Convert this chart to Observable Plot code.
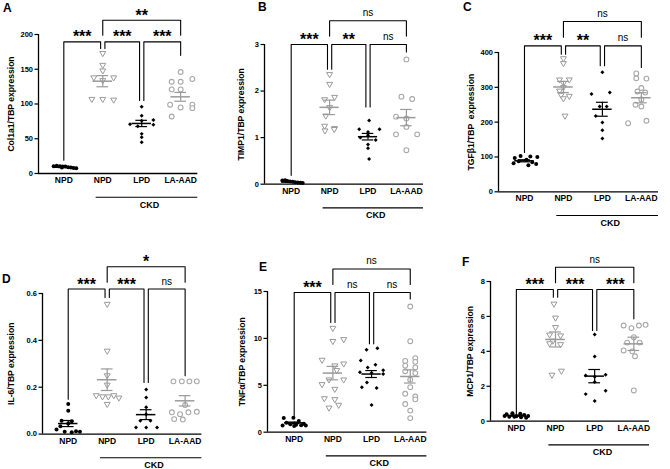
<!DOCTYPE html>
<html><head><meta charset="utf-8">
<script src="https://cdn.jsdelivr.net/npm/d3@7"></script>
<script src="https://cdn.jsdelivr.net/npm/@observablehq/plot@0.6"></script>
<style>
html,body{margin:0;padding:0;background:#fff;}
#fig{position:relative;width:670px;height:469px;overflow:hidden;font-family:"Liberation Sans",Arial,sans-serif;}
.letter{position:absolute;font-weight:bold;font-size:12px;line-height:1;color:#000;}
</style></head><body><div id="fig"></div>
<script>
const groupNames = ["NPD", "NPD", "LPD", "LA-AAD"];

// Panel A: Col1a1
const col1a1Ticks = [0, 50, 100, 150, 200];
const col1a1Values = [
  [10.5, 11, 10.5, 10, 10, 9, 8.5, 8, 7.5, 8.5],
  [173, 156, 148, 138, 138, 134, 107, 107, 106],
  [96, 83, 77, 76, 71, 70, 68, 57, 52, 45],
  [146, 136, 132, 132, 121, 121, 99, 99, 95, 94, 82]
];
const col1a1Offsets = [
  [-0.26, -0.18, -0.1, -0.03, 0.04, 0.11, 0.18, 0.25, 0.32, -0.05],
  [0, 0, 0, -0.23, 0.28, 0, -0.28, 0, 0.28],
  [0, 0, 0.3, 0, -0.3, 0.3, -0.1, 0, 0, 0],
  [0, 0.3, -0.23, 0, -0.23, 0, -0.27, 0.3, 0, 0.3, -0.23]
];
const col1a1Means = [9, 132.8, 72, 110.3];
const col1a1Sems = [0.5, 8, 4.5, 6.3];
const col1a1Brackets = [[0, 1, 189.4, 19, 180, "***"], [1, 2, 189.4, 180, 105, "***"], [2, 3, 189.4, 105, 170, "***"], [1, 3, 220.6, 199, 199, "**"]];

// Panel B: TIMP1
const timp1Ticks = [0, 1, 2, 3];
const timp1Values = [
  [0.08, 0.085, 0.07, 0.06, 0.05, 0.04, 0.035, 0.03, 0.025],
  [2.36, 2.15, 1.82, 1.87, 1.65, 1.47, 1.25, 1.2, 1.15, 1.18],
  [1.37, 1.18, 1.18, 1.12, 1.05, 1.0, 0.95, 0.85, 0.77, 0.54],
  [2.68, 1.88, 1.83, 1.45, 1.41, 1.23, 1.07, 1.07, 0.73]
];
const timp1Offsets = [
  [-0.23, -0.16, -0.1, -0.03, 0.04, 0.1, 0.17, 0.24, 0.3],
  [0, 0, -0.13, 0.13, 0, -0.1, -0.13, 0.13, -0.12, 0.12],
  [0.03, -0.23, 0.3, 0, 0, -0.2, 0.2, 0, 0, 0.03],
  [0, -0.13, 0.15, -0.27, 0, 0, -0.27, 0.28, 0]
];
const timp1Means = [0.045, 1.65, 1.02, 1.43];
const timp1Sems = [0.007, 0.155, 0.07, 0.175];
const timp1Brackets = [[0, 1, 3.0, 0.19, 2.47, "***"], [1, 2, 3.0, 2.47, 1.66, "**"], [2, 3, 3.0, 1.66, 2.84, "ns"], [1, 3, 3.51, 3.18, 3.18, "ns"]];

// Panel C: TGFb1
const tgfTicks = [0, 100, 200, 300, 400];
const tgfValues = [
  [103, 101, 100, 97, 92, 88, 85, 82, 80, 76],
  [383, 369, 322, 322, 312, 300, 290, 278, 275, 268, 218],
  [343, 281, 285, 245, 245, 218, 199, 177, 153],
  [340, 326, 325, 298, 288, 285, 265, 250, 245, 197, 204]
];
const tgfOffsets = [
  [-0.1, 0.15, 0.33, -0.25, 0.05, -0.15, 0.2, -0.28, 0.3, 0.1],
  [0, 0, -0.1, 0.15, 0, 0, -0.1, -0.06, 0.15, 0, 0.04],
  [0, -0.28, 0.19, -0.07, 0.11, -0.17, 0, 0, 0],
  [-0.13, -0.13, 0.13, 0, -0.1, 0.1, 0, -0.15, 0, -0.34, 0.13]
];
const tgfMeans = [89, 301, 237, 270];
const tgfSems = [3, 16, 20, 14.5];
const tgfBrackets = [[0, 1, 419, 113, 395, "***"], [1, 2, 419, 395, 362, "**"], [2, 3, 419, 362, 357, "ns"], [1, 3, 489, 444, 444, "ns"]];

// Panel D: IL-6
const il6Ticks = [0, 0.2, 0.4, 0.6];
const il6Values = [
  [0.128, 0.10, 0.057, 0.055, 0.045, 0.033, 0.02, 0.01, 0.008, 0.01, 0.012],
  [0.555, 0.355, 0.25, 0.21, 0.165, 0.16, 0.16, 0.165, 0.155, 0.128],
  [0.19, 0.156, 0.114, 0.085, 0.057, 0.057, 0.028, 0.028, 0.028],
  [0.225, 0.225, 0.225, 0.225, 0.124, 0.093, 0.085, 0.093, 0.095, 0.064, 0.062]
];
const il6Offsets = [
  [0, 0, -0.17, 0.09, 0, -0.2, -0.3, -0.09, 0.09, 0.3, 0.2],
  [0, 0, 0, 0, -0.28, -0.12, 0.03, 0.17, 0.3, 0],
  [0, 0, 0, 0, -0.15, 0.11, -0.26, 0, 0.28],
  [-0.3, -0.085, 0.11, 0.3, 0, -0.34, -0.13, 0.085, 0.3, -0.28, -0.06]
];
const il6Means = [0.045, 0.232, 0.083, 0.142];
const il6Sems = [0.013, 0.046, 0.021, 0.022];
const il6Brackets = [[0, 1, 0.619, 0.149, 0.583, "***"], [1, 2, 0.619, 0.583, 0.22, "***"], [2, 3, 0.619, 0.22, 0.249, "ns"], [1, 3, 0.714, 0.648, 0.648, "*"]];

// Panel E: TNFa
const tnfTicks = [0, 5, 10, 15];
const tnfValues = [
  [1.5, 1.55, 1.2, 1.0, 0.9, 0.85, 0.8, 0.75, 0.7, 0.7, 0.65],
  [11.1, 9.7, 9.9, 7.7, 7.3, 7.1, 6.6, 5.6, 5.1, 5.6, 4.6, 3.6, 3.5, 2.9, 2.6],
  [8.8, 8.95, 7.65, 7.2, 6.9, 6.6, 6.3, 6.4, 6.2, 5.3, 4.8, 4.7, 2.9],
  [13.4, 9.7, 7.9, 7.6, 7.5, 7.1, 6.9, 6.5, 6.3, 5.6, 4.8, 4.1, 3.8, 3.0, 2.3, 1.5, 3.5]
];
const tnfOffsets = [
  [-0.27, -0.02, 0.12, -0.2, 0.25, -0.1, 0.05, 0.18, -0.3, 0.3, 0],
  [0, 0, 0.28, -0.28, 0.28, 0.05, 0.1, -0.1, -0.28, 0.28, 0.05, -0.22, 0.05, 0.15, -0.1],
  [-0.13, 0.15, -0.28, 0.1, -0.1, 0.3, 0, -0.3, 0.3, -0.12, -0.25, 0.13, 0],
  [0, 0, 0.13, -0.13, 0.13, -0.13, 0.13, -0.13, 0.13, 0, 0, -0.13, 0.13, -0.13, 0, 0, 0.13]
];
const tnfMeans = [1.0, 6.3, 6.2, 5.94];
const tnfSems = [0.08, 0.72, 0.37, 0.7];
const tnfBrackets = [[0, 1, 14.9, 1.78, 11.7, "***"], [1, 2, 14.9, 11.7, 9.42, "ns"], [2, 3, 14.9, 9.42, 14.2, "ns"], [1, 3, 17.4, 15.75, 15.75, "ns"]];

// Panel F: MCP1
const mcp1Ticks = [0, 2, 4, 6, 8];
const mcp1Values = [
  [0.45, 0.42, 0.4, 0.35, 0.3, 0.3, 0.28, 0.25, 0.22, 0.2, 0.25],
  [6.72, 5.92, 5.38, 4.95, 4.9, 4.6, 4.45, 4.4, 2.65, 2.88],
  [4.96, 3.7, 2.62, 2.66, 2.55, 2.25, 1.55, 1.75, 1.15],
  [5.48, 5.33, 5.48, 5.52, 4.81, 4.5, 4.5, 4.05, 4.0, 3.72, 1.76]
];
const mcp1Offsets = [
  [-0.1, 0.1, -0.25, 0.2, -0.3, 0.3, 0, -0.18, 0.12, 0.25, -0.05],
  [-0.04, 0, 0, -0.15, 0.13, -0.07, -0.15, 0.13, -0.09, 0.15],
  [0, 0, -0.23, 0.28, 0, 0, -0.23, 0.28, 0],
  [-0.26, -0.06, 0.13, 0.3, 0, -0.17, 0.15, -0.26, -0.04, 0.03, 0]
];
const mcp1Means = [0.32, 4.68, 2.58, 4.43];
const mcp1Sems = [0.03, 0.43, 0.38, 0.38];
const mcp1Brackets = [[0, 1, 7.54, 0.42, 7.1, "***"], [1, 2, 7.54, 7.1, 5.19, "***"], [2, 3, 7.54, 5.19, 5.86, "***"], [1, 3, 8.82, 7.93, 7.93, "ns"]];

const panels = [
  {letter: "A", title: "Col1a1/TBP expression", ticks: col1a1Ticks, values: col1a1Values, offsets: col1a1Offsets, means: col1a1Means, sems: col1a1Sems, brackets: col1a1Brackets, fmt: d3.format("d"),
   axL: 37.7, axR: 197, yTop: 34.3, yBot: 173.3, xLo: -0.65, xHi: 3.44, titleDist: 27.7, lx: 3, ly: 2.4},
  {letter: "B", title: "TIMP1/TBP expression", ticks: timp1Ticks, values: timp1Values, offsets: timp1Offsets, means: timp1Means, sems: timp1Sems, brackets: timp1Brackets, fmt: d3.format("d"),
   axL: 264, axR: 423, yTop: 44.3, yBot: 184, xLo: -0.695, xHi: 3.445, titleDist: 23.3, lx: 258, ly: 1.4},
  {letter: "C", title: "TGFβ1/TBP  expression", ticks: tgfTicks, values: tgfValues, offsets: tgfOffsets, means: tgfMeans, sems: tgfSems, brackets: tgfBrackets, fmt: d3.format("d"),
   axL: 498, axR: 658, yTop: 51.7, yBot: 191, xLo: -0.667, xHi: 3.44, titleDist: 27.3, lx: 463, ly: 1.4},
  {letter: "D", title: "IL-6/TBP expression", ticks: il6Ticks, values: il6Values, offsets: il6Offsets, means: il6Means, sems: il6Sems, brackets: il6Brackets, fmt: d3.format(".1f"),
   axL: 42.3, axR: 201.7, yTop: 292.7, yBot: 433.3, xLo: -0.66, xHi: 3.43, titleDist: 31.6, lx: 2, ly: 273.4},
  {letter: "E", title: "TNFα/TBP expression", ticks: tnfTicks, values: tnfValues, offsets: tnfOffsets, means: tnfMeans, sems: tnfSems, brackets: tnfBrackets, fmt: d3.format("d"),
   axL: 267.3, axR: 426.7, yTop: 291, yBot: 431.7, xLo: -0.69, xHi: 3.43, titleDist: 25.6, lx: 259, ly: 261.4},
  {letter: "F", title: "MCP1/TBP expression", ticks: mcp1Ticks, values: mcp1Values, offsets: mcp1Offsets, means: mcp1Means, sems: mcp1Sems, brackets: mcp1Brackets, fmt: d3.format("d"),
   axL: 490, axR: 649, yTop: 281, yBot: 420.7, xLo: -0.66, xHi: 3.40, titleDist: 20, lx: 462, ly: 256.4}
];

const FONT = "'Liberation Sans', Arial, sans-serif";
const GREY_TRI = "#9a9a9a", GREY_CIR = "#a8a8a8", GREY_LINE = "#9a9a9a";
const fig = document.getElementById("fig");

function makePanel(p) {
  const mL = 46, mR = 8, mT = 52, mB = 46;
  const fw = p.axR - p.axL, fh = p.yBot - p.yTop;
  const ymax = p.ticks[p.ticks.length - 1];
  const pts = [];
  p.values.forEach((vals, g) => vals.forEach((v, k) => pts.push({g, x: g + p.offsets[g][k], y: v})));
  const stats = p.means.map((m, g) => ({g, m, lo: m - p.sems[g], hi: m + p.sems[g]}));
  const brk = p.brackets.map(([i, j, level, bi, bj, label], k) => {
    const lower = j - i === 1;
    const xi = i + (lower && i > 0 ? 0.055 : 0);
    const xj = j - (lower && j < 3 ? 0.055 : 0);
    return {k, xi, xj, level, bi, bj, label, mid: (xi + xj) / 2};
  });
  const brkPath = brk.flatMap(b => [
    {k: b.k, x: b.xi, y: b.bi}, {k: b.k, x: b.xi, y: b.level},
    {k: b.k, x: b.xj, y: b.level}, {k: b.k, x: b.xj, y: b.bj}
  ]);
  const blackStats = stats.filter(d => d.g % 2 === 0);
  const greyStats = stats.filter(d => d.g % 2 === 1);
  const statMarks = (data, color) => [
    Plot.ruleX(data, {x: "g", y1: "lo", y2: "hi", stroke: color, strokeWidth: 1.2}),
    Plot.ruleY(data, {y: "m", x1: d => d.g - 0.25, x2: d => d.g + 0.25, stroke: color, strokeWidth: 1.5}),
    Plot.ruleY(data, {y: "hi", x1: d => d.g - 0.15, x2: d => d.g + 0.15, stroke: color, strokeWidth: 1.2}),
    Plot.ruleY(data, {y: "lo", x1: d => d.g - 0.15, x2: d => d.g + 0.15, stroke: color, strokeWidth: 1.2})
  ];
  const svg = Plot.plot({
    width: fw + mL + mR, height: fh + mT + mB,
    marginLeft: mL, marginRight: mR, marginTop: mT, marginBottom: mB,
    x: {domain: [p.xLo, p.xHi]},
    y: {domain: [0, ymax]},
    style: {fontFamily: FONT, color: "black", background: "transparent", overflow: "visible"},
    marks: [
      Plot.axisY({ticks: p.ticks, tickFormat: p.fmt, tickSize: 3.5, tickPadding: 2, fontSize: 7.5, fontWeight: "bold", fill: "black", label: null, strokeWidth: 1.2}),
      Plot.axisX({ticks: [0, 1, 2, 3], tickFormat: i => groupNames[i], tickSize: 0, tickPadding: 3.5, fontSize: 8.5, fontWeight: "bold", fill: "black", label: null}),
      Plot.text([p.title], {text: d => d, frameAnchor: "left", textAnchor: "middle", lineAnchor: "middle", rotate: -90, dx: -p.titleDist, fontSize: 8.6, fontWeight: "bold", fill: "black"}),
      Plot.ruleY([{y: 0, x1: 0.83, x2: p.xHi}], {y: "y", x1: "x1", x2: "x2", dy: 23.7, stroke: "black", strokeWidth: 1.1}),
      Plot.text([{x: 2.2, y: 0, t: "CKD"}], {x: "x", y: "y", text: "t", dy: 31.3, fontSize: 9, fontWeight: "bold", fill: "black"}),
      Plot.dot(pts.filter(d => d.g === 0), {x: "x", y: "y", r: 2, fill: "black"}),
      Plot.dot(pts.filter(d => d.g === 1), {x: "x", y: "y", symbol: "triangle", rotate: 180, r: 2.2, fill: "white", stroke: GREY_TRI, strokeWidth: 1}),
      Plot.dot(pts.filter(d => d.g === 2), {x: "x", y: "y", symbol: "diamond2", r: 1.8, fill: "black"}),
      Plot.dot(pts.filter(d => d.g === 3), {x: "x", y: "y", r: 2.4, fill: "white", stroke: GREY_CIR, strokeWidth: 1.1}),
      ...statMarks(blackStats, "black"),
      ...statMarks(greyStats, GREY_LINE),
      Plot.line(brkPath, {x: "x", y: "y", z: "k", stroke: "black", strokeWidth: 1.1}),
      Plot.text(brk.filter(b => b.label !== "ns"), {x: "mid", y: "level", text: "label", lineAnchor: "bottom", dy: 0.5, fontSize: 16, fontWeight: "bold", fill: "black"}),
      Plot.text(brk.filter(b => b.label === "ns"), {x: "mid", y: "level", text: "label", lineAnchor: "bottom", dy: -4.5, fontSize: 10, fontWeight: "normal", fill: "black"}),
      Plot.ruleY([0], {stroke: "black", strokeWidth: 1.3}),
      Plot.ruleX([p.xLo], {y1: 0, y2: ymax, stroke: "black", strokeWidth: 1.3})
    ]
  });
  svg.style.position = "absolute";
  svg.style.left = (p.axL - mL) + "px";
  svg.style.top = (p.yTop - mT) + "px";
  svg.style.maxWidth = "none";
  fig.appendChild(svg);
  const lab = document.createElement("div");
  lab.className = "letter";
  lab.textContent = p.letter;
  lab.style.left = p.lx + "px";
  lab.style.top = p.ly + "px";
  fig.appendChild(lab);
}

panels.forEach(makePanel);
</script>
</body></html>
